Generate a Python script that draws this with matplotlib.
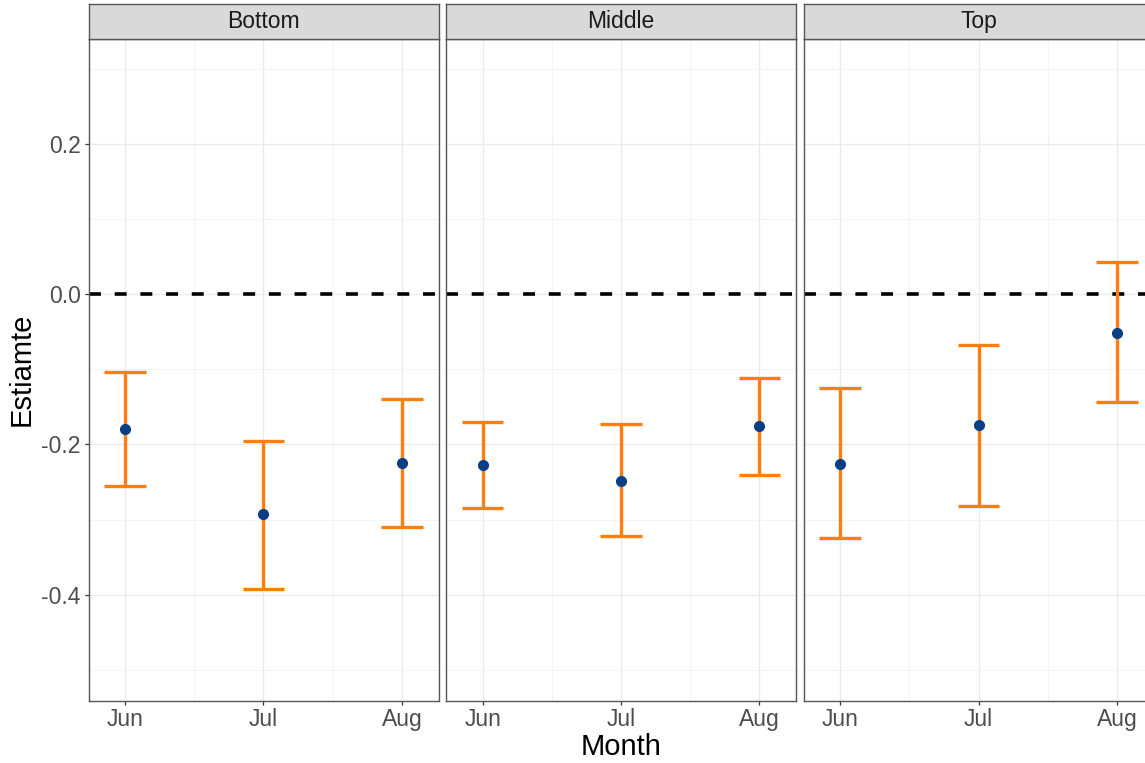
import matplotlib
matplotlib.use("Agg")
import matplotlib.pyplot as plt
from matplotlib.ticker import FixedLocator

# Estimates with lower / upper confidence bounds, one facet per group
groups = ["Bottom", "Middle", "Top"]
months = ["Jun", "Jul", "Aug"]

estimate_bottom = [-0.179, -0.293, -0.225]
lower_bottom = [-0.255, -0.392, -0.310]
upper_bottom = [-0.104, -0.195, -0.139]

estimate_middle = [-0.228, -0.248, -0.176]
lower_middle = [-0.285, -0.322, -0.241]
upper_middle = [-0.170, -0.173, -0.112]

estimate_top = [-0.226, -0.174, -0.051]
lower_top = [-0.324, -0.282, -0.144]
upper_top = [-0.125, -0.068, 0.043]

y_major = [-0.4, -0.2, 0.0, 0.2]
y_minor = [-0.5, -0.3, -0.1, 0.1, 0.3]

series = {
    "Bottom": (estimate_bottom, lower_bottom, upper_bottom),
    "Middle": (estimate_middle, lower_middle, upper_middle),
    "Top": (estimate_top, lower_top, upper_top),
}

plt.rcParams["font.family"] = ["Liberation Sans", "DejaVu Sans"]
plt.rcParams["lines.scale_dashes"] = False

W, H = 1145, 763
fig = plt.figure(figsize=(W / 100, H / 100), dpi=100)
fig.patch.set_facecolor("white")

panel_left = [88.5, 446.0, 803.5]
panel_w = 350.0
panel_top, panel_bottom = 39.0, 700.5
strip_top = 4.3

ORANGE = "#FF7F0E"
BLUE = "#0A3F86"
GRID = "#EBEBEB"
BORDER = "#555555"

xpos = [1, 2, 3]
for i, g in enumerate(groups):
    est, lo, hi = series[g]
    ax = fig.add_axes([panel_left[i] / W, (H - panel_bottom) / H,
                       panel_w / W, (panel_bottom - panel_top) / H])
    ax.set_xlim(0.735, 3.265)
    ax.set_ylim(-0.541, 0.34)

    ax.yaxis.set_major_locator(FixedLocator(y_major))
    ax.yaxis.set_minor_locator(FixedLocator(y_minor))
    ax.xaxis.set_major_locator(FixedLocator(xpos))
    ax.xaxis.set_minor_locator(FixedLocator([1.5, 2.5]))
    ax.set_xticklabels(months)

    ax.grid(which="major", color=GRID, lw=1.0)
    ax.grid(which="minor", color="#F2F2F2", lw=0.6)
    ax.set_axisbelow(True)

    ax.axhline(0.0, color="black", lw=2.6, dashes=(8.6, 9.9), zorder=2)

    ax.vlines(xpos, lo, hi, color=ORANGE, lw=2.4, zorder=3)
    ax.hlines(lo, [x - 0.15 for x in xpos], [x + 0.15 for x in xpos],
              color=ORANGE, lw=2.4, zorder=3)
    ax.hlines(hi, [x - 0.15 for x in xpos], [x + 0.15 for x in xpos],
              color=ORANGE, lw=2.4, zorder=3)
    ax.plot(xpos, est, "o", color=BLUE, ms=7.0, mec=BLUE, zorder=4)

    for sp in ax.spines.values():
        sp.set_color(BORDER)
        sp.set_linewidth(1.0)

    ax.tick_params(which="minor", length=0)
    ax.tick_params(which="major", length=3, width=0.9, color="#333333",
                   labelsize=16.5, labelcolor="#4D4D4D", pad=2.5)
    if i > 0:
        ax.tick_params(axis="y", which="major", left=False, labelleft=False)
    else:
        ax.set_yticklabels([f"{v:.1f}" for v in y_major])

    # facet strip
    sax = fig.add_axes([panel_left[i] / W, (H - panel_top) / H,
                        panel_w / W, (panel_top - strip_top) / H])
    sax.set_facecolor("#D9D9D9")
    sax.set_xticks([])
    sax.set_yticks([])
    for sp in sax.spines.values():
        sp.set_color(BORDER)
        sp.set_linewidth(1.0)
    sax.text(0.5, 0.5, g, ha="center", va="center", fontsize=16.5,
             color="#1A1A1A", transform=sax.transAxes)

fig.text(22 / W, 1 - 369.5 / H, "Estiamte", rotation=90, ha="center",
         va="center", fontsize=21, color="black")
fig.text(620.7 / W, 1 - 747 / H, "Month", ha="center", va="center",
         fontsize=21, color="black")

fig.savefig("out.png", dpi=100)
